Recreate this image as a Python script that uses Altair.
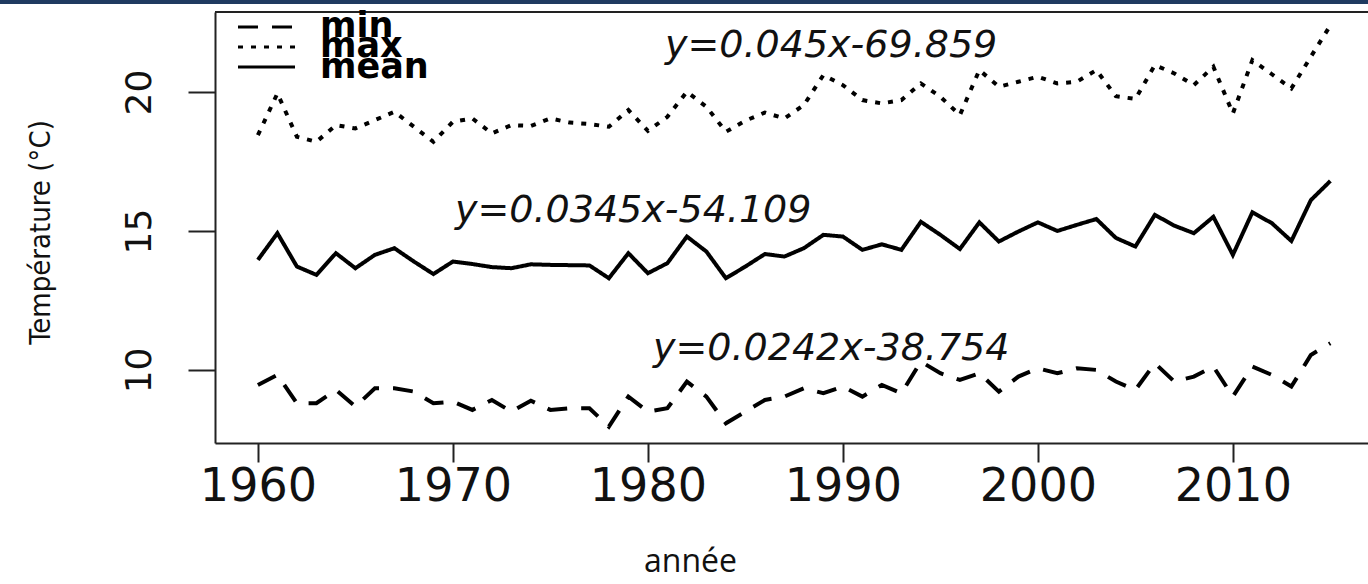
import altair as alt
import pandas as pd

years = list(range(1960, 2016))
t_mean = [13.96, 14.92, 13.72, 13.42, 14.20, 13.66, 14.14, 14.38, 13.90, 13.45,
          13.90, 13.81, 13.70, 13.66, 13.80, 13.78, 13.77, 13.76, 13.30, 14.20,
          13.48, 13.84, 14.80, 14.26, 13.30, 13.72, 14.17, 14.08, 14.38, 14.86,
          14.80, 14.32, 14.52, 14.32, 15.33, 14.86, 14.35, 15.31, 14.62, 14.98,
          15.31, 15.00, 15.22, 15.43, 14.75, 14.44, 15.58, 15.19, 14.92, 15.51,
          14.14, 15.67, 15.28, 14.64, 16.11, 16.80]
t_max = [18.45, 19.95, 18.39, 18.21, 18.81, 18.69, 18.99, 19.29, 18.75, 18.21,
         18.93, 19.05, 18.51, 18.81, 18.78, 19.05, 18.90, 18.85, 18.75, 19.35,
         18.60, 19.11, 20.01, 19.47, 18.57, 18.97, 19.26, 19.05, 19.53, 20.61,
         20.25, 19.71, 19.59, 19.71, 20.31, 19.83, 19.17, 20.79, 20.19, 20.37,
         20.55, 20.31, 20.37, 20.79, 19.85, 19.75, 20.97, 20.67, 20.25, 20.91,
         19.23, 21.15, 20.64, 20.13, 21.27, 22.40]
t_min = [9.46, 9.82, 8.80, 8.80, 9.28, 8.68, 9.34, 9.34, 9.22, 8.80,
         8.86, 8.56, 8.92, 8.50, 8.89, 8.56, 8.62, 8.62, 7.96, 9.04,
         8.50, 8.62, 9.58, 9.04, 8.08, 8.50, 8.92, 9.04, 9.34, 9.16,
         9.40, 9.04, 9.46, 9.16, 10.30, 9.88, 9.64, 9.88, 9.22, 9.76,
         10.06, 9.88, 10.06, 10.00, 9.58, 9.28, 10.24, 9.58, 9.76, 10.12,
         9.04, 10.12, 9.82, 9.40, 10.54, 10.96]

series_names = ["min", "max", "mean"]
equations = ["y=0.0242x-38.754", "y=0.045x-69.859", "y=0.0345x-54.109"]
x_ticks = [1960, 1970, 1980, 1990, 2000, 2010]
y_ticks = [10, 15, 20]

frames = []
for name, vals in zip(series_names, [t_min, t_max, t_mean]):
    frames.append(pd.DataFrame({"year": years, "temp": vals, "series": name}))
df = pd.concat(frames, ignore_index=True)

W, H = 1153, 431
DASHES = [[20, 14], [5, 8], [1, 0]]

xscale = alt.Scale(domain=[1957.8, 2016.93], nice=False, zero=False)
yscale = alt.Scale(domain=[7.37, 22.88], nice=False, zero=False)

lines = alt.Chart(df).mark_line(color="black", strokeWidth=4, strokeCap="butt").encode(
    x=alt.X("year:Q", scale=xscale,
            axis=alt.Axis(values=x_ticks, format="d", title="année",
                          tickSize=19, tickWidth=2, tickColor="#222",
                          domainWidth=2, domainColor="#222", grid=False,
                          labelFont="DejaVu Sans", labelFontSize=46, labelColor="#111",
                          labelBaseline="alphabetic", labelPadding=38,
                          labelFlush=False, labelOverlap=False,
                          titleFont="Open Sans", titleFontSize=32, titleFontWeight="normal",
                          titleColor="#111", titleX=475, titleY=128,
                          titleAlign="center", titleBaseline="alphabetic")),
    y=alt.Y("temp:Q", scale=yscale,
            axis=alt.Axis(values=y_ticks, format="d", title="Température (°C)",
                          tickSize=27, tickWidth=2, tickColor="#222",
                          domainWidth=2, domainColor="#222", grid=False,
                          labelFont="DejaVu Sans", labelFontSize=36, labelColor="#111",
                          labelAngle=270, labelAlign="center", labelBaseline="alphabetic",
                          labelPadding=38, labelOverlap=False, labelFlush=False,
                          titleFont="Liberation Sans Narrow, DejaVu Sans Condensed, sans-serif",
                          titleFontSize=29, titleFontWeight="normal", titleColor="#111",
                          titleAngle=270, titleX=-175, titleY=220,
                          titleAlign="center", titleBaseline="middle")),
    strokeDash=alt.StrokeDash("series:N",
                              scale=alt.Scale(domain=series_names, range=DASHES),
                              legend=None),
    detail="series:N",
)

top_border = alt.Chart().mark_rule(color="#222", strokeWidth=2).encode(
    x=alt.value(0), x2=alt.value(W), y=alt.value(0))

navy = alt.Chart().mark_rect(color="#1f3a60").encode(
    x=alt.value(-215), x2=alt.value(W), y=alt.value(-12), y2=alt.value(-8))

# legend
leg_line_y = [15, 35, 55]
leg_text_y = [25, 45, 66]
legend_layers = []
for name, dash, ly, ty in zip(series_names, DASHES, leg_line_y, leg_text_y):
    legend_layers.append(
        alt.Chart().mark_rule(color="black", strokeWidth=3, strokeDash=dash, strokeCap="butt").encode(
            x=alt.value(23), x2=alt.value(80), y=alt.value(ly)))
    legend_layers.append(
        alt.Chart().mark_text(text=name, font="DejaVu Sans", fontWeight="bold", fontSize=35,
                              align="left", baseline="alphabetic", color="black").encode(
            x=alt.value(105), y=alt.value(ty)))

# equations
eq_pos = [(438, 348), (450, 45), (240, 210)]
eq_layers = []
for txt, (ex, ey) in zip(equations, eq_pos):
    eq_layers.append(
        alt.Chart().mark_text(text=txt, font="DejaVu Sans", fontStyle="italic", fontSize=38,
                              align="left", baseline="alphabetic", color="#111").encode(
            x=alt.value(ex), y=alt.value(ey)))

chart = alt.layer(lines, top_border, navy, *legend_layers, *eq_layers).properties(
    width=W, height=H,
    autosize=alt.AutoSizeParams(type="none"),
    padding={"left": 215, "top": 12, "right": 0, "bottom": 137},
    background="white",
).configure_view(stroke=None)

chart.save("out.html", embed_options={"renderer": "svg", "actions": False})
